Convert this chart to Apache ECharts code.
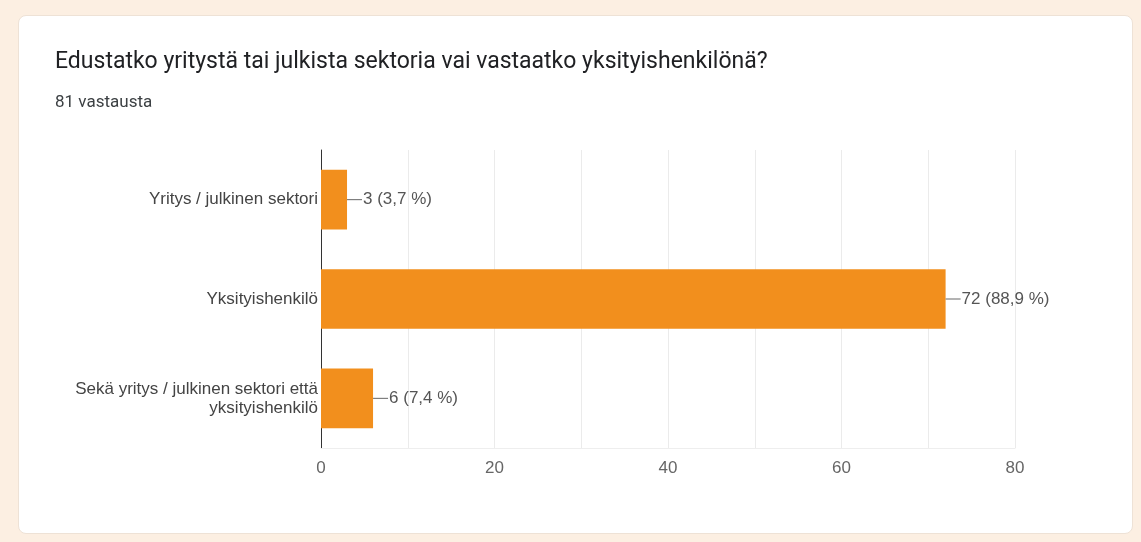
<!DOCTYPE html>
<html>
<head>
<meta charset="utf-8">
<script src="https://cdn.jsdelivr.net/npm/echarts@6/dist/echarts.min.js"></script>
<style>
  html, body { margin: 0; padding: 0; background: #fcefe2; }
  #card {
    position: absolute; left: 18px; top: 15px; width: 1113px; height: 517px;
    background: #fff; border: 1px solid #eee2d6; border-radius: 8px;
  }
  #chart { position: absolute; left: 0; top: 0; width: 1141px; height: 542px; }
</style>
</head>
<body>
<div id="card"></div>
<div id="chart"></div>
<script>
// Data
const categories = [
  'Yritys / julkinen sektori',
  'Yksityishenkilö',
  'Sekä yritys / julkinen sektori että\nyksityishenkilö'
];
const counts = [3, 72, 6];
const percents = ['3,7', '88,9', '7,4'];
const xTicks = [0, 20, 40, 60, 80];

const chart = echarts.init(document.getElementById('chart'));

chart.setOption({
  animation: false,
  title: [
    {
      text: 'Edustatko yritystä tai julkista sektoria vai vastaatko yksityishenkilönä?',
      left: 50, top: 46,
      textStyle: { fontFamily: 'Roboto', fontSize: 23, fontWeight: 'normal', color: '#202124' }
    },
    {
      text: '81 vastausta',
      left: 50, top: 89,
      textStyle: { fontFamily: 'Roboto', fontSize: 17, fontWeight: 'normal', color: '#3c4043' }
    }
  ],
  grid: { left: 321, right: 126, top: 150, bottom: 94 },
  xAxis: {
    type: 'value',
    min: 0, max: 80, interval: 10,
    axisLine: { show: true, lineStyle: { color: '#eeeeee' } },
    axisTick: { show: false },
    splitLine: { lineStyle: { color: '#ebebeb' } },
    axisLabel: {
      margin: 12,
      fontFamily: 'Liberation Sans', fontSize: 17, color: '#666',
      formatter: v => (xTicks.indexOf(v) >= 0 ? String(v) : '')
    }
  },
  yAxis: {
    type: 'category',
    inverse: true,
    data: categories,
    axisLine: { show: true, lineStyle: { color: '#333', width: 1 } },
    axisTick: { show: false },
    axisLabel: {
      margin: 3,
      fontFamily: 'Liberation Sans', fontSize: 17, color: '#444', lineHeight: 19, align: 'right'
    }
  },
  series: [{
    type: 'bar',
    data: counts,
    barCategoryGap: '40%',
    itemStyle: { color: '#f28f1d' },
    label: {
      show: true,
      position: 'right',
      distance: 0,
      formatter: p => '{ln|}{t|' + p.value + ' (' + percents[p.dataIndex] + ' %)}',
      rich: {
        ln: { width: 15, height: 1, backgroundColor: '#666', verticalAlign: 'middle' },
        t: { fontFamily: 'Liberation Sans', fontSize: 17, color: '#555', padding: [0, 0, 0, 1], verticalAlign: 'middle' }
      }
    }
  }]
});
</script>
</body>
</html>
